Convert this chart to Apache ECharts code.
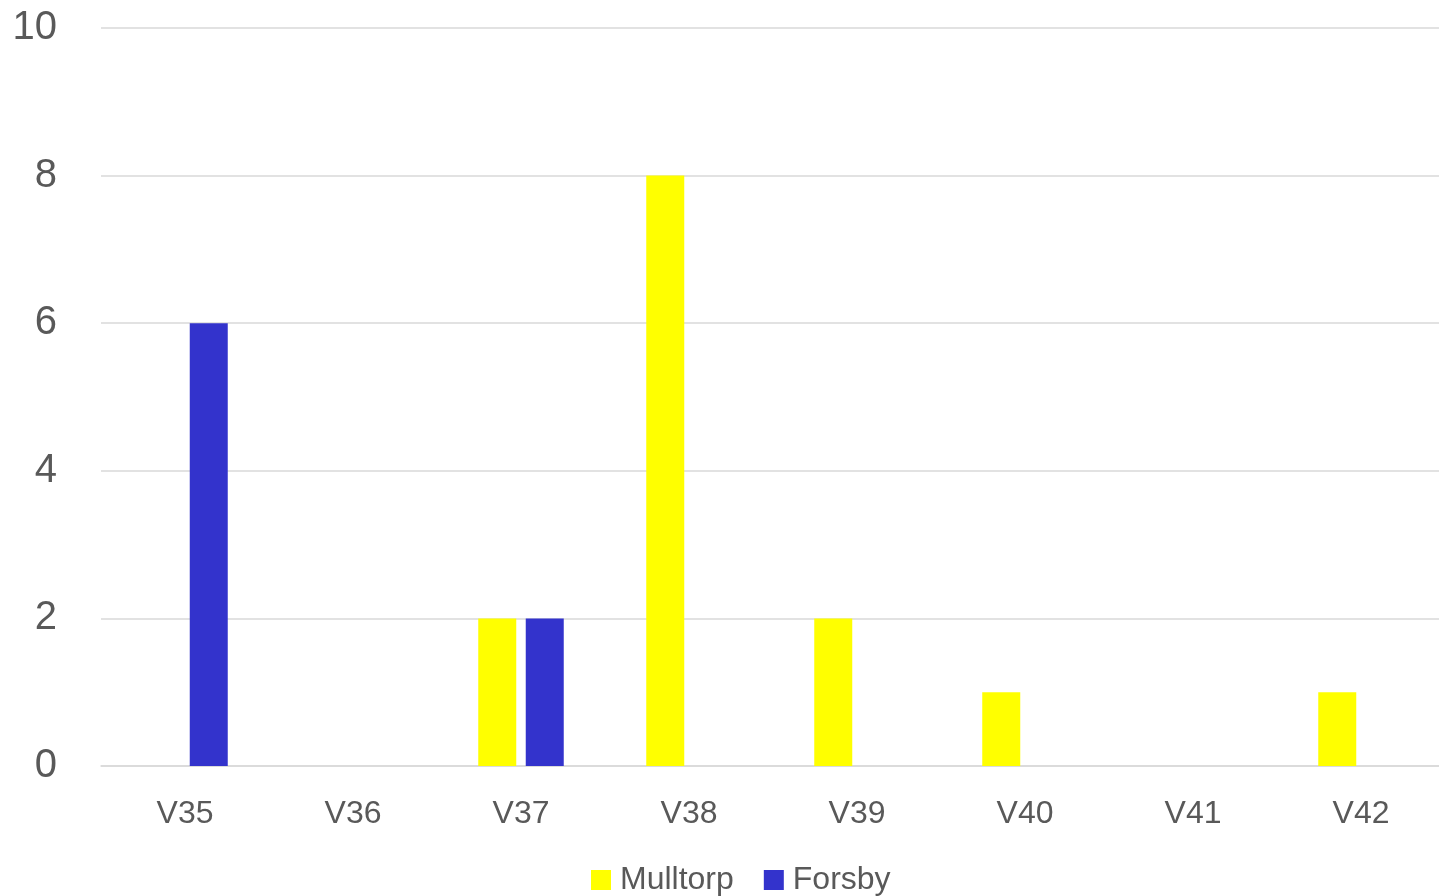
<!DOCTYPE html>
<html>
<head>
<meta charset="utf-8">
<script src="https://cdn.jsdelivr.net/npm/echarts@6/dist/echarts.min.js"></script>
<style>html,body{margin:0;padding:0;background:#fff;overflow:hidden}#c{width:1446px;height:896px}</style>
</head>
<body>
<div id="c"></div>
<script>
const categories = ['V35','V36','V37','V38','V39','V40','V41','V42'];
const mulltorp = [0,0,2,8,2,1,0,1];
const forsby = [6,0,2,0,0,0,0,0];
const yTicks = {min:0, max:10, interval:2};

const chart = echarts.init(document.getElementById('c'));
const font = 'Liberation Sans, Arial, sans-serif';
chart.setOption({
  animation:false,
  grid:{left:101,right:1,top:28,bottom:130,containLabel:false},
  legend:{
    left:586, top:859, itemWidth:20, itemHeight:20, itemGap:30,
    icon:'rect',
    textStyle:{fontFamily:font,fontSize:32,color:'#595959',padding:[0,0,0,4],lineHeight:32},
    data:['Mulltorp','Forsby']
  },
  xAxis:{
    type:'category', data:categories,
    axisLine:{lineStyle:{color:'#d9d9d9',width:1.5}},
    axisTick:{show:false},
    axisLabel:{fontFamily:font,fontSize:32,color:'#595959',margin:32}
  },
  yAxis:{
    type:'value', min:yTicks.min, max:yTicks.max, interval:yTicks.interval,
    axisLine:{show:false}, axisTick:{show:false},
    splitLine:{lineStyle:{color:'#d9d9d9',width:1.5}},
    axisLabel:{fontFamily:font,fontSize:40,color:'#595959',margin:44}
  },
  series:[
    {name:'Mulltorp',type:'bar',data:mulltorp,barWidth:38,barGap:'25%',itemStyle:{color:'#ffff00'}},
    {name:'Forsby',type:'bar',data:forsby,barWidth:38,barGap:'25%',itemStyle:{color:'#3333cc'}}
  ]
});
</script>
</body>
</html>
